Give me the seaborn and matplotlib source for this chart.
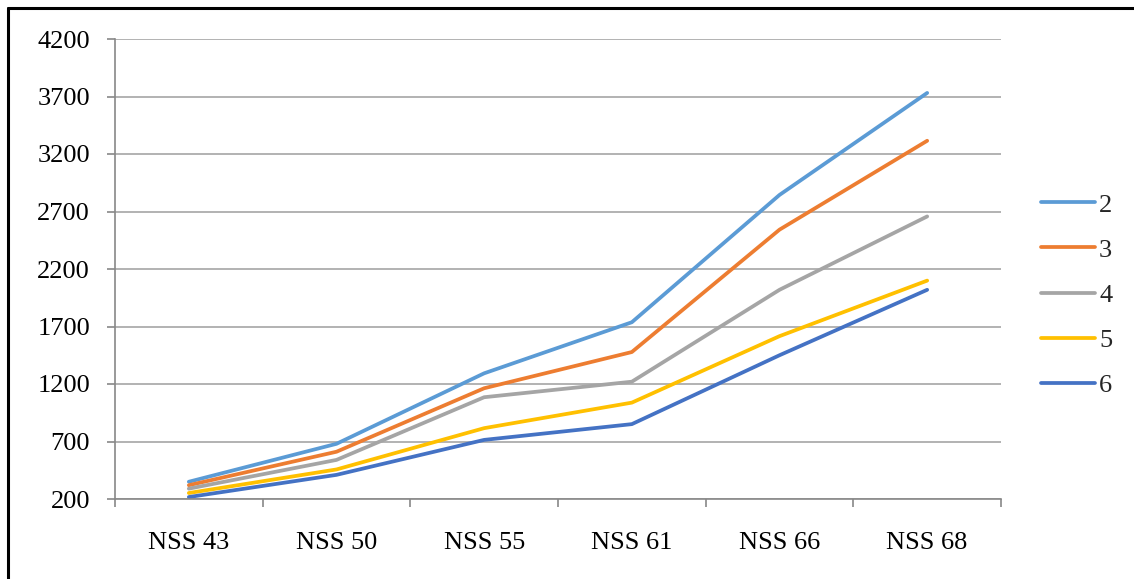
import matplotlib
matplotlib.use("Agg")
import matplotlib.pyplot as plt
from matplotlib.lines import Line2D
import seaborn as sns
import pandas as pd
import numpy as np

# Survey rounds and the five series plotted against them
rounds = ["NSS 43", "NSS 50", "NSS 55", "NSS 61", "NSS 66", "NSS 68"]
series_names = ["2", "3", "4", "5", "6"]
s2 = [350, 680, 1293, 1737, 2844, 3731]
s3 = [320, 611, 1163, 1478, 2542, 3315]
s4 = [290, 540, 1085, 1220, 2019, 2657]
s5 = [252, 457, 816, 1038, 1616, 2099]
s6 = [217, 410, 714, 851, 1450, 2019]
y_ticks = [200, 700, 1200, 1700, 2200, 2700, 3200, 3700, 4200]

palette = ["#5B9BD5", "#ED7D31", "#A5A5A5", "#FFC000", "#4472C4"]

sns.set_theme(style="white")
plt.rcParams["font.family"] = ["Liberation Serif", "DejaVu Serif"]

rows = []
for name, vals in zip(series_names, [s2, s3, s4, s5, s6]):
    for i, v in enumerate(vals):
        rows.append({"round": i, "value": v, "series": name})
df = pd.DataFrame(rows)

W, H = 1134, 579
fig = plt.figure(figsize=(W / 100, H / 100), dpi=100)
ax = fig.add_axes([115 / W, 1 - 499 / H, (1001 - 115) / W, (499 - 39) / H])

sns.lineplot(data=df, x="round", y="value", hue="series", hue_order=series_names,
             palette=palette, linewidth=2.7, ax=ax, legend=False, sort=False)

grid_c = "#A6A6A6"
axis_c = "#888888"
ax.set_ylim(200, 4200)
ax.set_xlim(-0.5, len(rounds) - 0.5)
ax.set_yticks(y_ticks)
ax.set_yticklabels([str(t) for t in y_ticks], fontsize=19, color="black")
ax.yaxis.grid(True, color=grid_c, linewidth=1.2)
ax.set_axisbelow(True)

# Category boundaries carry the tick marks; labels sit at category centres
ax.set_xticks(np.arange(-0.5, len(rounds), 1.0))
ax.set_xticklabels([])
ax.set_xticks(np.arange(len(rounds)), minor=True)
ax.set_xticklabels(rounds, minor=True, fontsize=19, color="black")
ax.tick_params(axis="x", which="major", direction="out", length=6, width=1.2,
               color=axis_c, bottom=True)
ax.tick_params(axis="x", which="minor", length=0, pad=24)
ax.tick_params(axis="y", direction="out", length=6, width=1.2, color=axis_c,
               left=True, pad=12)
ax.set_xlabel("")
ax.set_ylabel("")

for side in ["top", "right"]:
    ax.spines[side].set_visible(False)
for side in ["left", "bottom"]:
    ax.spines[side].set_color(axis_c)
    ax.spines[side].set_linewidth(1.2)

handles = [Line2D([0], [0], color=c, linewidth=2.7) for c in palette]
fig.legend(handles, series_names, loc="center left",
           bbox_to_anchor=(1041 / W, 1 - 295 / H), frameon=False,
           fontsize=19, borderpad=0, borderaxespad=0, handlelength=2.05,
           handletextpad=0.15, labelspacing=0.82)

# Frame lines along the top and left edges of the figure
fig.add_artist(Line2D([8 / W, 8 / W], [0, 1 - 8 / H], transform=fig.transFigure,
                      color="black", linewidth=2.2))
fig.add_artist(Line2D([8 / W, 1], [1 - 8 / H, 1 - 8 / H], transform=fig.transFigure,
                      color="black", linewidth=2.2))

fig.savefig("out.png", dpi=100, facecolor="white")
